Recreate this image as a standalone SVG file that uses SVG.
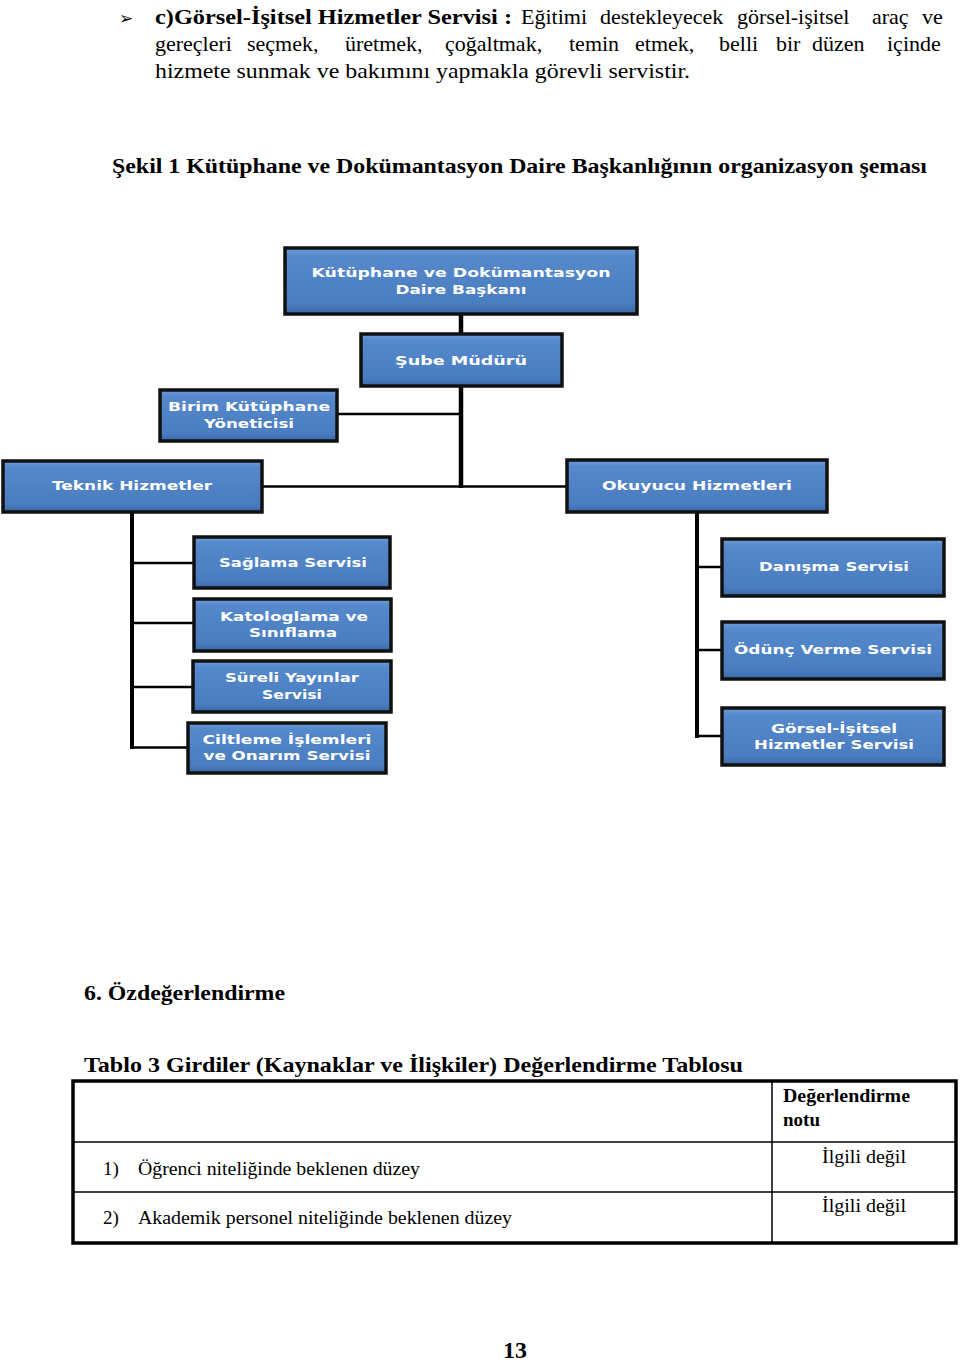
<svg xmlns="http://www.w3.org/2000/svg" width="960" height="1362" viewBox="0 0 960 1362">
<defs>
<linearGradient id="bg" x1="0" y1="0" x2="0" y2="1">
<stop offset="0" stop-color="#6e9fdc"/>
<stop offset="0.12" stop-color="#5589cb"/>
<stop offset="0.85" stop-color="#4a7dc0"/>
<stop offset="1" stop-color="#3a68a6"/>
</linearGradient>
<style>
.box{fill:url(#bg);stroke:#111;stroke-width:3.5}
.bt{font-family:"DejaVu Sans","Open Sans",sans-serif;font-weight:700;font-size:13px;fill:#fff;text-anchor:middle}
.c{stroke:#000;fill:none}
.serif{font-family:"Liberation Serif","Times New Roman",serif;fill:#000}
.b{font-weight:700}
</style>
</defs>
<rect width="960" height="1362" fill="#fff"/>

<g id="intro" class="serif" font-size="22">
<text x="119" y="24" font-family="DejaVu Sans, sans-serif" font-size="17">➢</text>
<text y="24"><tspan x="155" class="b" textLength="357" lengthAdjust="spacingAndGlyphs">c)Görsel-İşitsel Hizmetler Servisi :</tspan><tspan x="521">Eğitimi</tspan><tspan x="600">destekleyecek</tspan><tspan x="737">görsel-işitsel</tspan><tspan x="872">araç</tspan><tspan x="922">ve</tspan></text>
<text y="51"><tspan x="155">gereçleri</tspan><tspan x="247">seçmek,</tspan><tspan x="345">üretmek,</tspan><tspan x="445">çoğaltmak,</tspan><tspan x="569">temin</tspan><tspan x="635">etmek,</tspan><tspan x="719">belli</tspan><tspan x="776">bir</tspan><tspan x="812">düzen</tspan><tspan x="887">içinde</tspan></text>
<text x="155" y="78" textLength="535" lengthAdjust="spacingAndGlyphs">hizmete sunmak ve bakımını yapmakla görevli servistir.</text>
</g>

<text id="caption" class="serif b" x="112" y="173" font-size="21" textLength="815" lengthAdjust="spacingAndGlyphs">Şekil 1 Kütüphane ve Dokümantasyon Daire Başkanlığının organizasyon şeması</text>

<g id="connectors">
<line class="c" x1="461" y1="315" x2="461" y2="333" stroke-width="4.5"/>
<line class="c" x1="461" y1="387" x2="461" y2="488" stroke-width="4.5"/>
<line class="c" x1="337" y1="414" x2="461" y2="414" stroke-width="2.5"/>
<line class="c" x1="262" y1="486.5" x2="567" y2="486.5" stroke-width="2.5"/>
<line class="c" x1="132" y1="513" x2="132" y2="749" stroke-width="4"/>
<line class="c" x1="130" y1="563" x2="193" y2="563" stroke-width="2.5"/>
<line class="c" x1="130" y1="623" x2="193" y2="623" stroke-width="2.5"/>
<line class="c" x1="130" y1="687" x2="192" y2="687" stroke-width="2.5"/>
<line class="c" x1="130" y1="747.5" x2="187" y2="747.5" stroke-width="2.5"/>
<line class="c" x1="697" y1="513" x2="697" y2="738" stroke-width="4"/>
<line class="c" x1="695" y1="567" x2="721" y2="567" stroke-width="2.5"/>
<line class="c" x1="695" y1="650" x2="721" y2="650" stroke-width="2.5"/>
<line class="c" x1="695" y1="736" x2="721" y2="736" stroke-width="2.5"/>
</g>

<g id="n-baskan">
<rect class="box" x="285" y="248" width="352" height="66"/>
<text class="bt" x="461" y="277" textLength="299" lengthAdjust="spacingAndGlyphs">Kütüphane ve Dokümantasyon</text>
<text class="bt" x="461" y="294" textLength="131" lengthAdjust="spacingAndGlyphs">Daire Başkanı</text>
</g>
<g id="n-sube">
<rect class="box" x="361" y="334" width="201" height="52"/>
<text class="bt" x="461" y="365" textLength="132" lengthAdjust="spacingAndGlyphs">Şube Müdürü</text>
</g>
<g id="n-birim">
<rect class="box" x="160" y="390" width="177" height="51"/>
<text class="bt" x="249" y="411" textLength="162" lengthAdjust="spacingAndGlyphs">Birim Kütüphane</text>
<text class="bt" x="249" y="428" textLength="90" lengthAdjust="spacingAndGlyphs">Yöneticisi</text>
</g>
<g id="n-teknik">
<rect class="box" x="3" y="461" width="259" height="51"/>
<text class="bt" x="132" y="490" textLength="160" lengthAdjust="spacingAndGlyphs">Teknik Hizmetler</text>
</g>
<g id="n-okuyucu">
<rect class="box" x="567" y="460" width="260" height="52"/>
<text class="bt" x="697" y="490" textLength="190" lengthAdjust="spacingAndGlyphs">Okuyucu Hizmetleri</text>
</g>
<g id="n-saglama">
<rect class="box" x="194" y="537" width="196" height="51"/>
<text class="bt" x="293" y="567" textLength="148" lengthAdjust="spacingAndGlyphs">Sağlama Servisi</text>
</g>
<g id="n-katalog">
<rect class="box" x="194" y="599" width="197" height="52"/>
<text class="bt" x="294" y="621" textLength="148" lengthAdjust="spacingAndGlyphs">Katologlama ve</text>
<text class="bt" x="293" y="637" textLength="88" lengthAdjust="spacingAndGlyphs">Sınıflama</text>
</g>
<g id="n-sureli">
<rect class="box" x="193" y="661" width="198" height="51"/>
<text class="bt" x="292" y="682" textLength="134" lengthAdjust="spacingAndGlyphs">Süreli Yayınlar</text>
<text class="bt" x="292" y="699" textLength="60" lengthAdjust="spacingAndGlyphs">Servisi</text>
</g>
<g id="n-ciltleme">
<rect class="box" x="188" y="723" width="198" height="50"/>
<text class="bt" x="287" y="744" textLength="169" lengthAdjust="spacingAndGlyphs">Ciltleme İşlemleri</text>
<text class="bt" x="287" y="760" textLength="167" lengthAdjust="spacingAndGlyphs">ve Onarım Servisi</text>
</g>
<g id="n-danisma">
<rect class="box" x="722" y="539" width="222" height="57"/>
<text class="bt" x="834" y="571" textLength="150" lengthAdjust="spacingAndGlyphs">Danışma Servisi</text>
</g>
<g id="n-odunc">
<rect class="box" x="722" y="622" width="222" height="57"/>
<text class="bt" x="833" y="654" textLength="198" lengthAdjust="spacingAndGlyphs">Ödünç Verme Servisi</text>
</g>
<g id="n-gorsel">
<rect class="box" x="722" y="708" width="222" height="57"/>
<text class="bt" x="834" y="733" textLength="126" lengthAdjust="spacingAndGlyphs">Görsel-İşitsel</text>
<text class="bt" x="834" y="749" textLength="160" lengthAdjust="spacingAndGlyphs">Hizmetler Servisi</text>
</g>

<text id="h6" class="serif b" x="84" y="1000" font-size="21" textLength="201" lengthAdjust="spacingAndGlyphs">6. Özdeğerlendirme</text>
<text id="h-tablo" class="serif b" x="84" y="1072" font-size="21" textLength="659" lengthAdjust="spacingAndGlyphs">Tablo 3 Girdiler (Kaynaklar ve İlişkiler) Değerlendirme Tablosu</text>

<g id="table">
<rect x="73" y="1081" width="883" height="162" fill="none" stroke="#000" stroke-width="3.5"/>
<line x1="772" y1="1081" x2="772" y2="1243" stroke="#000" stroke-width="1.5"/>
<line x1="73" y1="1142" x2="956" y2="1142" stroke="#000" stroke-width="1.5"/>
<line x1="73" y1="1192" x2="956" y2="1192" stroke="#000" stroke-width="1.5"/>
<text class="serif b" x="783" y="1102" font-size="19" textLength="127" lengthAdjust="spacingAndGlyphs">Değerlendirme</text>
<text class="serif b" x="783" y="1126" font-size="19">notu</text>
<text class="serif" x="103" y="1175" font-size="19">1)</text>
<text class="serif" x="138" y="1175" font-size="19" textLength="282" lengthAdjust="spacingAndGlyphs">Öğrenci niteliğinde beklenen düzey</text>
<text class="serif" x="822" y="1163" font-size="19" textLength="84" lengthAdjust="spacingAndGlyphs">İlgili değil</text>
<text class="serif" x="103" y="1224" font-size="19">2)</text>
<text class="serif" x="138" y="1224" font-size="19" textLength="374" lengthAdjust="spacingAndGlyphs">Akademik personel niteliğinde beklenen düzey</text>
<text class="serif" x="822" y="1212" font-size="19" textLength="84" lengthAdjust="spacingAndGlyphs">İlgili değil</text>
</g>

<text id="page" class="serif b" x="515" y="1358" font-size="24" text-anchor="middle">13</text>
</svg>
